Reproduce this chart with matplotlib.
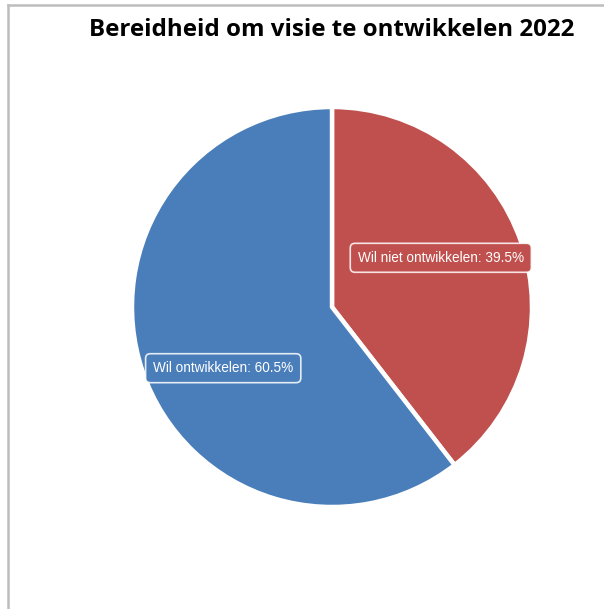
import numpy as np
import matplotlib.pyplot as plt
from matplotlib.lines import Line2D

# data
labels = ['Wil niet ontwikkelen', 'Wil ontwikkelen']
values = [39.5, 60.5]
colors = ['#c0504d', '#4a7ebb']
title = 'Bereidheid om visie te ontwikkelen 2022'

W, H = 604, 609
fig = plt.figure(figsize=(W / 100, H / 100), dpi=100)

# pie area, centre ~ (332, 307) px, radius ~200 px
ax = fig.add_axes([(332 - 200) / W, (H - 507) / H, 400 / W, 400 / H])
wedges, _ = ax.pie(values, colors=colors, startangle=90, counterclock=False,
                   radius=1, wedgeprops=dict(edgecolor='white', linewidth=3.2))
ax.set_xlim(-1, 1)
ax.set_ylim(-1, 1)
ax.set_aspect('equal')
ax.axis('off')

# labels inside the slices (a bit turned from the mid angle, like the original)
for w, lab, val, col in zip(wedges, labels, values, colors):
    ang = np.deg2rad((w.theta1 + w.theta2) / 2 + 8)
    x, y = 0.61 * np.cos(ang), 0.61 * np.sin(ang) - 0.03
    ax.text(x, y, f'{lab}: {val}%', ha='center', va='center', color='white',
            fontsize=9.8, family='Liberation Sans',
            bbox=dict(boxstyle='round,pad=0.55,rounding_size=0.35',
                      facecolor=col, edgecolor=(1, 1, 1, 0.85), linewidth=1.2))

# title
fig.text(332 / W, 1 - 30 / H, title, ha='center', va='center',
         fontsize=17.4, fontweight='bold', family='Open Sans')

# grey frame on the top and left
fig.add_artist(Line2D([8 / W, 1], [1 - 5 / H, 1 - 5 / H], color='#bdbdbd', lw=1.8))
fig.add_artist(Line2D([8 / W, 8 / W], [0, 1 - 5 / H], color='#bdbdbd', lw=1.8))

fig.savefig('out.png', dpi=100, facecolor='white')
